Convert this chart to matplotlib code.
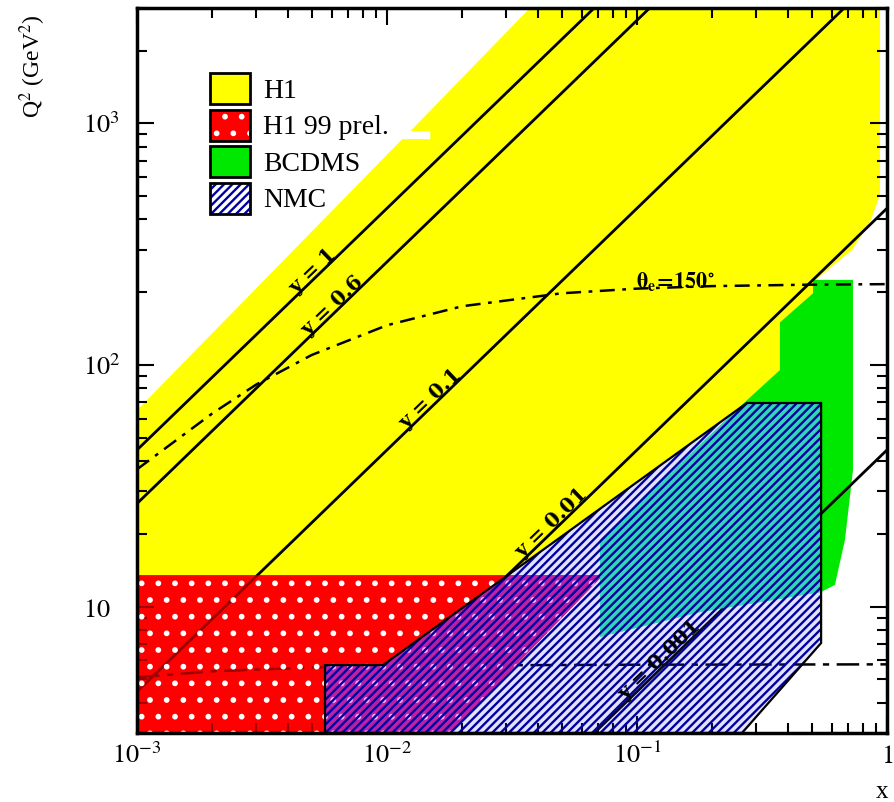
import numpy as np
import matplotlib
matplotlib.use('Agg')
import matplotlib.pyplot as plt
from matplotlib.patches import Polygon, Patch
from matplotlib.ticker import LogLocator, NullFormatter

# ---------------- data ----------------
x_limits = [1e-3, 1.0]
q2_limits = [3.0, 3000.0]

s_value = 44500.0                      # Q^2 = s * x * y
y_values = [1.0, 0.6, 0.1, 0.01, 0.001]
y_labels = ['y = 1', 'y = 0.6', 'y = 0.1', 'y = 0.01', 'y = 0.001']
y_label_x = [0.00525, 0.0063, 0.0155, 0.0474, 0.129]

theta150_x = [0.001, 0.002, 0.003, 0.005, 0.01, 0.02, 0.05, 0.1, 0.2, 0.5, 1.0]
theta150_q2 = [37, 63, 83, 110, 146, 175, 198, 207, 212, 215, 216]
theta150_label = r'$\mathbf{\theta_e\!=\!150^{\circ}}$'
theta150_label_pos = [0.142, 207]

theta175_x = [0.001, 0.002, 0.005, 0.01, 0.1, 1.0]
theta175_q2 = [5.1, 5.4, 5.6, 5.7, 5.75, 5.77]

h1_x = [0.001, 0.0115, 0.0149, 0.0149, 0.0124, 0.0373, 0.938, 0.938, 0.855,
        0.724, 0.565, 0.506, 0.540, 0.409, 0.409, 0.275, 0.0305, 0.001]
h1_q2 = [65, 860, 860, 928, 928, 3000, 3000, 505, 390,
         299, 242, 220, 185, 139, 95, 69.6, 13.5, 13.5]

h199_x = [0.001, 0.001, 0.0731, 0.0179]
h199_q2 = [3.0, 13.5, 13.5, 3.0]

bcdms_x = [0.0711, 0.0711, 0.270, 0.373, 0.373, 0.506, 0.506, 0.731, 0.731,
           0.679, 0.619, 0.545, 0.179]
bcdms_q2 = [7.5, 18.9, 70.2, 95.3, 150, 198, 225, 225, 36.7,
            18.9, 12.3, 11.5, 9.5]

nmc_x = [0.00565, 0.00565, 0.00964, 0.275, 0.545, 0.545, 0.263]
nmc_q2 = [3.0, 5.73, 5.73, 69.6, 69.6, 7.07, 3.0]

legend_labels = ['H1', 'H1 99 prel.', 'BCDMS', 'NMC']

x_ticks = [1e-3, 1e-2, 1e-1, 1.0]
x_tick_labels = [r'$10^{-3}$', r'$10^{-2}$', r'$10^{-1}$', r'$1$']
y_ticks = [10, 100, 1000]
y_tick_labels = [r'$10$', r'$10^{2}$', r'$10^{3}$']

# ---------------- style ----------------
plt.rcParams['mathtext.fontset'] = 'stix'
plt.rcParams['hatch.linewidth'] = 1.7
serif = 'Liberation Serif'

yellow = '#ffff00'
red = '#ff0000'
green = '#00e800'
navy = '#0000a0'
purple_mix = '#b428c8'   # NMC seen over H1 99 prel.
teal_mix = '#38d8d0'     # NMC seen over BCDMS

fig = plt.figure(figsize=(8.95, 8.02), dpi=100)
ax = fig.add_axes([137 / 895, 69 / 802, 750 / 895, 725 / 802])
ax.set_xscale('log')
ax.set_yscale('log')
ax.set_xlim(x_limits)
ax.set_ylim(q2_limits)

h1_xy = np.column_stack([h1_x, h1_q2])
h199_xy = np.column_stack([h199_x, h199_q2])
bcdms_xy = np.column_stack([bcdms_x, bcdms_q2])
nmc_xy = np.column_stack([nmc_x, nmc_q2])

# regions
ax.add_patch(Polygon(h1_xy, closed=True, facecolor=yellow, edgecolor='none', zorder=1))
ax.add_patch(Polygon(bcdms_xy, closed=True, facecolor=green, edgecolor='none', zorder=1.2))
ax.add_patch(Polygon(h199_xy, closed=True, facecolor=red, edgecolor='none', zorder=1.4))

# kinematic lines
xs = np.array(x_limits)
for yv in y_values:
    ax.plot(xs, s_value * yv * xs, color='k', lw=2.0, zorder=2)
ax.plot(theta150_x, theta150_q2, color='k', lw=1.8, dashes=(6, 3, 1.5, 3), zorder=2)
ax.plot(theta175_x, theta175_q2, color='k', lw=1.8, dashes=(9, 3, 2.5, 3), zorder=2)

# red overlay with white dots (lines appear dark red underneath)
ax.add_patch(Polygon(h199_xy, closed=True, facecolor=(1, 0, 0, 0.62),
                     edgecolor='white', hatch='.', lw=0, zorder=2.5))

# NMC hatched region
nmc_tint = Polygon(nmc_xy, closed=True, facecolor=(0.25, 0.25, 1.0, 0.15),
                   edgecolor='none', zorder=2.7)
ax.add_patch(nmc_tint)
mix_red = Polygon(h199_xy, closed=True, facecolor=purple_mix, alpha=0.8,
                  edgecolor='none', zorder=2.8)
ax.add_patch(mix_red)
mix_red.set_clip_path(nmc_tint)
mix_red_dots = Polygon(h199_xy, closed=True, facecolor='none',
                       edgecolor='#ffb0ff', hatch='.', lw=0, zorder=2.85)
ax.add_patch(mix_red_dots)
mix_red_dots.set_clip_path(nmc_tint)
mix_green = Polygon(bcdms_xy, closed=True, facecolor=teal_mix, alpha=0.85,
                    edgecolor='none', zorder=2.8)
ax.add_patch(mix_green)
mix_green.set_clip_path(nmc_tint)

ax.add_patch(Polygon(nmc_xy, closed=True, facecolor='none',
                     edgecolor=navy, hatch='////', lw=0, zorder=3))
ax.add_patch(Polygon(nmc_xy, closed=True, facecolor='none',
                     edgecolor='k', lw=1.6, zorder=3.2))

# line labels
for yv, lab, lx in zip(y_values, y_labels, y_label_x):
    ly = s_value * yv * lx
    p1 = ax.transData.transform((lx, ly))
    p2 = ax.transData.transform((lx * 2, ly * 2))
    ang = np.degrees(np.arctan2(p2[1] - p1[1], p2[0] - p1[0]))
    off = 5.0
    dx = -np.sin(np.radians(ang)) * off
    dy = np.cos(np.radians(ang)) * off
    ax.annotate(lab, (lx, ly), xytext=(dx, dy), textcoords='offset points',
                rotation=ang, rotation_mode='anchor', ha='center', va='center',
                fontsize=14.5, fontweight='bold', family='DejaVu Serif', zorder=5)

ax.text(theta150_label_pos[0], theta150_label_pos[1], theta150_label,
        ha='center', va='baseline', fontsize=16, zorder=5)

# ticks
ax.set_xticks(x_ticks, x_tick_labels, fontsize=19)
ax.set_yticks(y_ticks, y_tick_labels, fontsize=19, ha='left')
ax.xaxis.set_minor_locator(LogLocator(base=10, subs=np.arange(2, 10) * 1.0, numticks=20))
ax.yaxis.set_minor_locator(LogLocator(base=10, subs=np.arange(2, 10) * 1.0, numticks=20))
ax.xaxis.set_minor_formatter(NullFormatter())
ax.yaxis.set_minor_formatter(NullFormatter())
ax.tick_params(which='both', direction='in', top=True, right=True, width=1.5)
ax.tick_params(which='major', length=12)
ax.tick_params(which='minor', length=7)
ax.tick_params(axis='x', pad=7)
ax.tick_params(axis='y', pad=39)
for sp in ax.spines.values():
    sp.set_linewidth(2.5)
    sp.set_zorder(10)

# axis labels
ax.set_xlabel('x', fontsize=18, family=serif)
ax.xaxis.set_label_coords(0.993, -0.0897)
ax.xaxis.label.set_va('baseline')
ax.set_ylabel(r'Q$^2$ (GeV$^2$)', fontsize=17, family=serif)
ax.yaxis.set_label_coords(-0.1187, 0.92)

# legend
handles = [
    Patch(facecolor=yellow, edgecolor='k', lw=2),
    (Patch(facecolor=red, edgecolor='white', hatch='.', lw=0),
     Patch(facecolor='none', edgecolor='k', lw=2)),
    Patch(facecolor=green, edgecolor='k', lw=2),
    (Patch(facecolor='white', edgecolor=navy, hatch='////', lw=0),
     Patch(facecolor='none', edgecolor='k', lw=2)),
]
leg = ax.legend(handles, legend_labels, loc='upper left',
                bbox_to_anchor=(0.0973, 0.9103), frameon=False,
                prop={'family': serif, 'size': 20},
                handlelength=1.44, handleheight=1.34, labelspacing=0.2,
                handletextpad=0.47, borderpad=0, borderaxespad=0)
leg.set_zorder(6)

fig.savefig('out.png', dpi=100)
